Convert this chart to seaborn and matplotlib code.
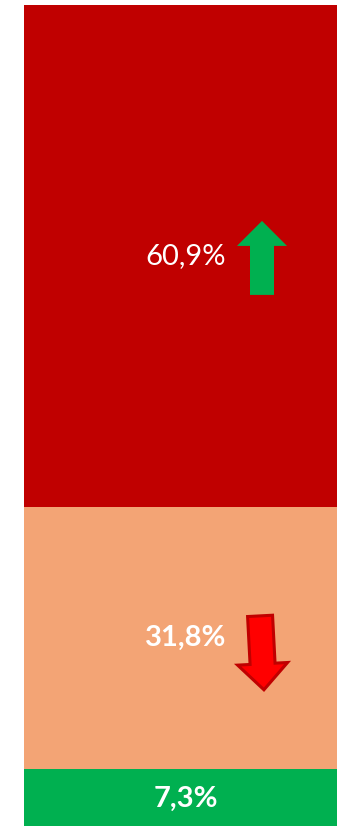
import matplotlib
matplotlib.use("Agg")
import matplotlib.pyplot as plt
from matplotlib.patches import Polygon
from matplotlib.transforms import Affine2D
import numpy as np
import pandas as pd
import seaborn as sns

# Share of each group, stacked bottom to top
segments = ["Verde", "Salmón", "Rojo"]
values = [7.3, 31.8, 60.9]
labels = ["7,3%", "31,8%", "60,9%"]
colors = ["#00B050", "#F3A475", "#C00000"]
bold = [True, True, False]
trend = [None, "down", "up"]

sns.set_theme(style="white")
plt.rcParams["font.family"] = ["Lato", "DejaVu Sans"]

fig = plt.figure(figsize=(3.37, 8.26), dpi=100)
ax = fig.add_axes([0, 0, 1, 1])

bottoms = np.concatenate([[0], np.cumsum(values)[:-1]])
for seg, val, bot, col in zip(segments, values, bottoms, colors):
    df = pd.DataFrame({"cat": ["Total"], "val": [val]})
    sns.barplot(data=df, x="cat", y="val", bottom=bot, color=col,
                width=1.0, saturation=1, ax=ax, linewidth=0)

ax.set_xlim(-0.574, 0.466)
ax.set_ylim(0.364, 100.607)
ax.axis("off")

fig.canvas.draw()


def arrow_poly(kind):
    # arrow outline in pixels around its own centre
    if kind == "up":
        return np.array([[0, 37], [25, 12], [12, 12], [12, -37],
                         [-12, -37], [-12, 12], [-25, 12]])
    return np.array([[0, -37], [25, -11], [12.5, -11], [12.5, 37],
                     [-12.5, 37], [-12.5, -11], [-25, -11]])


for val, bot, lab, b, tr in zip(values, bottoms, labels, bold, trend):
    mid = bot + val / 2
    ax.text(0.0, mid, lab, ha="center", va="center", color="white",
            fontsize=21, fontweight="bold" if b else "normal")
    if tr is None:
        continue
    cx, cy = ax.transData.transform((0.0, mid))
    cx += 76
    if tr == "up":
        pts = arrow_poly("up") + [cx, cy - 2]
        ax.add_patch(Polygon(pts, closed=True, transform=None,
                             facecolor="#00B050", edgecolor="none"))
    else:
        rot = Affine2D().rotate_deg(3)
        pts = rot.transform(arrow_poly("down")) + [cx, cy - 15]
        ax.add_patch(Polygon(pts, closed=True, transform=None,
                             facecolor="#FF0000", edgecolor="#C00000",
                             linewidth=2.2, joinstyle="miter"))

fig.savefig("out.png", dpi=100, facecolor="white")
